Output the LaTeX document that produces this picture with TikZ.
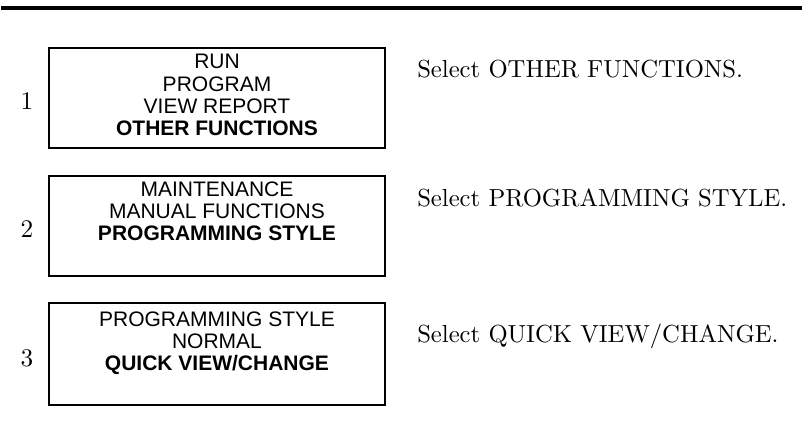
\documentclass[tikz,border=0pt]{standalone}
\usepackage{fontspec}
\newfontfamily\boxfont{Liberation Sans}
\newfontfamily\instrfont{lmroman10-regular.otf}
\begin{document}
\begin{tikzpicture}[x=0.75pt,y=-0.75pt,
  screen/.style={draw, line width=1.5pt, inner sep=0pt, outer sep=0pt, minimum width=252pt, minimum height=75pt},
  ln/.style={anchor=base, inner sep=0pt, font=\boxfont\fontsize{15.75}{16.5}\selectfont},
  bl/.style={anchor=base, inner sep=0pt, font=\boxfont\bfseries\fontsize{15.75}{16.5}\selectfont},
  num/.style={anchor=base, inner sep=0pt, font=\instrfont\fontsize{19}{21}\selectfont},
  instr/.style={anchor=base west, inner sep=0pt, font=\instrfont\fontsize{18.5}{20}\selectfont}]
\useasboundingbox (0,0) rectangle (806,430);
\coordinate (barL) at (1,8);
\coordinate (barR) at (802,8);
\draw[line width=3.4pt] (barL) -- (barR);

% step 1
\node[screen] (s1) at (217,98) {};
\node[num] (n1) at (27,109) {1};
\node[ln] (s1a) at (217,68) {RUN};
\node[ln] (s1b) at (217,91) {PROGRAM};
\node[ln] (s1c) at (217,113) {VIEW REPORT};
\node[bl] (s1d) at (217,135) {OTHER FUNCTIONS};
\node[instr] (i1) at (417,77) {Select OTHER FUNCTIONS.};

% step 2
\node[screen] (s2) at (217,226) {};
\node[num] (n2) at (27,237) {2};
\node[ln] (s2a) at (217,196) {MAINTENANCE};
\node[ln] (s2b) at (217,218) {MANUAL FUNCTIONS};
\node[bl] (s2c) at (217,240) {PROGRAMMING STYLE};
\node[instr] (i2) at (417,206) {Select PROGRAMMING STYLE.};

% step 3
\node[screen, minimum height=76.5pt] (s3) at (217,354) {};
\node[num] (n3) at (27,366) {3};
\node[ln] (s3a) at (217,326) {PROGRAMMING STYLE};
\node[ln] (s3b) at (217,348) {NORMAL};
\node[bl] (s3c) at (217,370) {QUICK VIEW/CHANGE};
\node[instr] (i3) at (417,342) {Select QUICK VIEW/CHANGE.};
\end{tikzpicture}
\end{document}
